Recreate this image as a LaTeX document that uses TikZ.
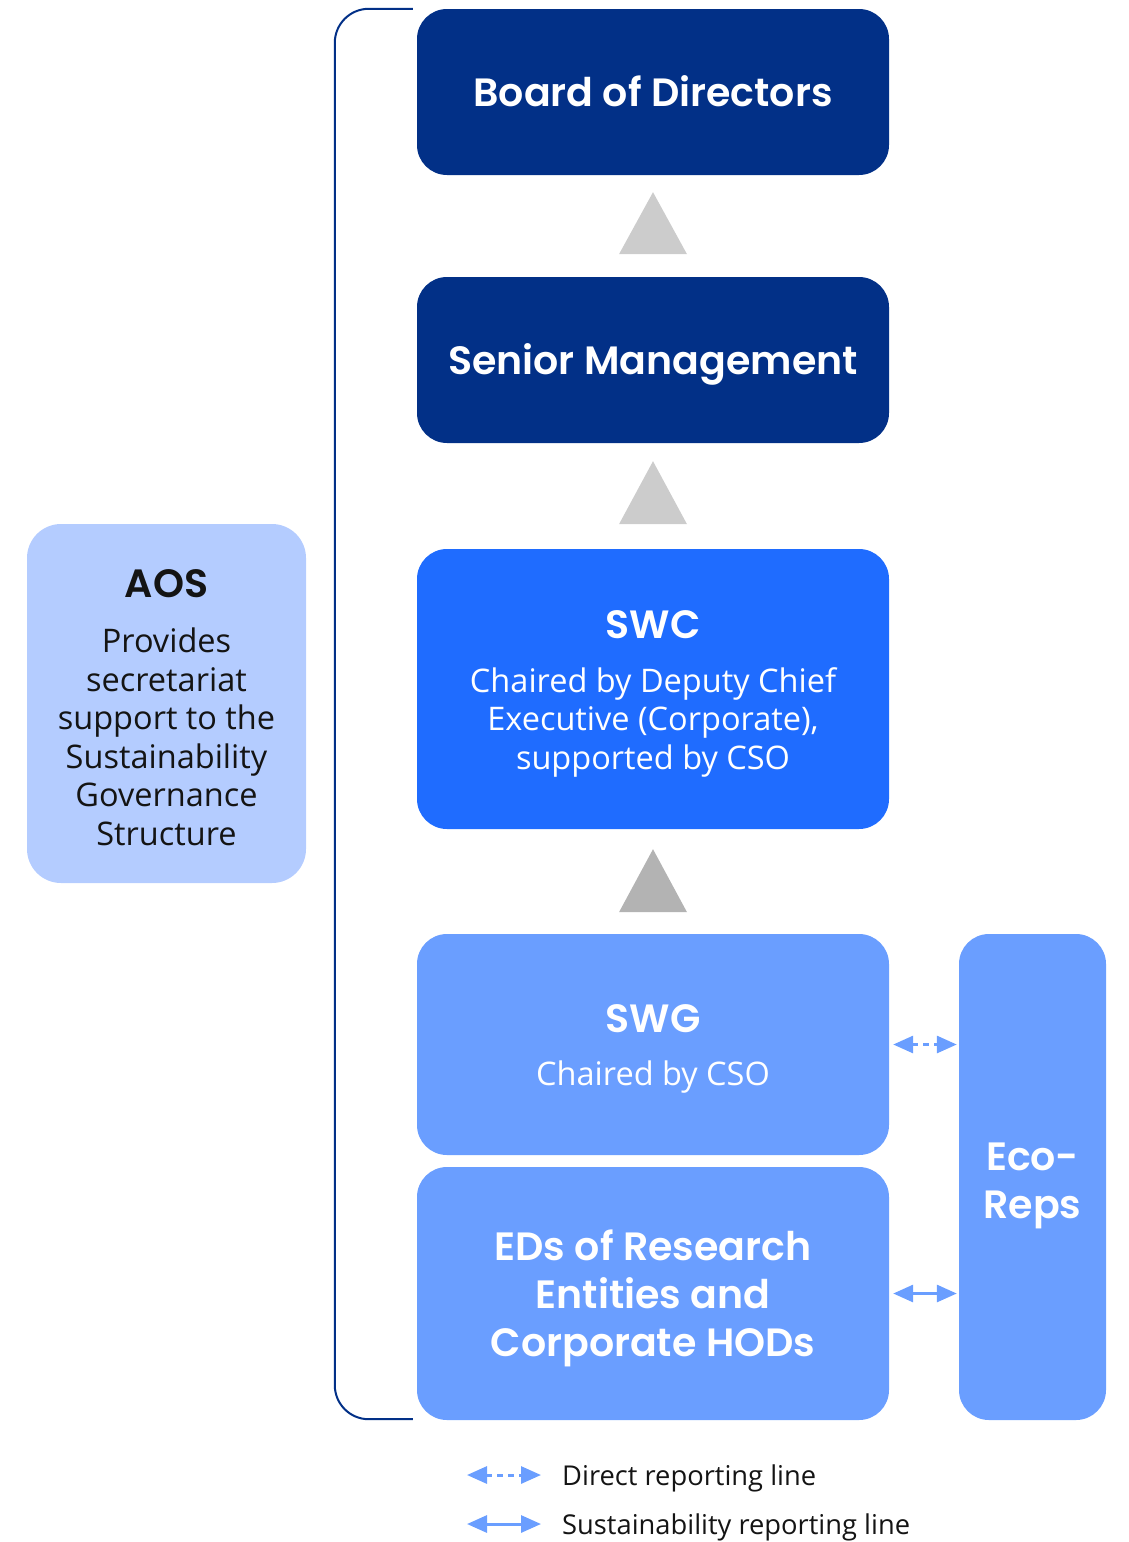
\documentclass[tikz,border=0pt]{standalone}
\usepackage{fontspec}
\setmainfont{Open Sans}
\newfontfamily\headfont{Poppins SemiBold}
\usetikzlibrary{arrows.meta,calc}
\definecolor{navy}{RGB}{2,48,135}
\definecolor{brightblue}{RGB}{31,108,255}
\definecolor{midblue}{RGB}{106,158,255}
\definecolor{paleblue}{RGB}{180,204,255}
\definecolor{tri}{RGB}{204,204,204}
\definecolor{tridark}{RGB}{179,179,179}
\definecolor{ink}{RGB}{20,20,20}
\tikzset{
  box/.style={draw=none, rounded corners=30pt, inner sep=0pt},
  txt/.style={inner sep=0pt, align=center, text=white},
  head/.style={txt, font=\headfont\fontsize{39.5}{48}\selectfont},
  bodytext/.style={txt, font=\fontsize{32.5}{38.5}\selectfont},
  relarrow/.style={midblue, line width=3pt, {Triangle[length=20pt,width=17pt]}-{Triangle[length=20pt,width=17pt]}},
  dashrel/.style={relarrow, dash pattern=on 6pt off 5pt},
}
\begin{document}
\begin{tikzpicture}[x=1pt,y=-1pt]
\useasboundingbox (0,0) rectangle (1128,1542);
% boxes
\node[box, fill=navy, minimum width=472pt, minimum height=166pt] (board) at (653,92) {};
\node[box, fill=navy, minimum width=472pt, minimum height=166pt] (senior) at (653,360) {};
\node[box, fill=brightblue, minimum width=472pt, minimum height=280pt] (swc) at (653,689) {};
\node[box, fill=midblue, minimum width=472pt, minimum height=221pt] (swg) at (653,1044.5) {};
\node[box, fill=midblue, minimum width=472pt, minimum height=253pt] (eds) at (653,1293.5) {};
\node[box, fill=midblue, minimum width=147pt, minimum height=486pt] (eco) at (1032.5,1177) {};
\node[box, fill=paleblue, rounded corners=34pt, minimum width=279pt, minimum height=359pt] (aos) at (166.5,703.5) {};
% texts
\node[head] (boardt) at ($(board.center)+(0,-1)$) {Board of Directors};
\node[head] (seniort) at ($(senior.center)+(0,4)$) {Senior Management};
\node[head] (swct) at (653,625) {SWC};
\node[bodytext] (swcb) at (653,722) {Chaired by Deputy Chief\\Executive (Corporate),\\supported by CSO};
\node[head] (swgt) at (653,1019) {SWG};
\node[bodytext] (swgb) at (653,1077) {Chaired by CSO};
\node[head] (edst) at ($(eds.center)+(0,5)$) {EDs of Research\\Entities and\\Corporate HODs};
\node[head] (ecot) at ($(eco.center)+(0,9)$) {Eco-\\Reps};
\node[head, text=ink] (aost) at (166.5,584) {AOS};
\node[bodytext, text=ink] (aosb) at (166.5,737) {Provides\\secretariat\\support to the\\Sustainability\\Governance\\Structure};
% upward triangles
\fill[tri] ($(board.south)+(0,17)$) -- ++(34,62) -- ++(-68,0) -- cycle;
\fill[tri] ($(senior.south)+(0,18)$) -- ++(34,63) -- ++(-68,0) -- cycle;
\fill[tridark] ($(swc.south)+(0,20)$) -- ++(34,63) -- ++(-68,0) -- cycle;
% bracket
\draw[navy, line width=2pt, rounded corners=34pt]
  ($(board.north west)+(-4,0)$) -- ($(board.north west)+(-82,0)$) -- ($(eds.south west)+(-82,-1)$) -- ($(eds.south west)+(-4,-1)$);
% relations
\draw[dashrel, shorten <=4pt, shorten >=2pt] (swg.east) -- (swg.east -| eco.west);
\draw[relarrow, shorten <=4pt, shorten >=2pt] (eds.east) -- (eds.east -| eco.west);
% legend
\coordinate (l1a) at (467,1475);
\coordinate (l1b) at (541,1475);
\coordinate (l2a) at (467,1524);
\coordinate (l2b) at (541,1524);
\draw[dashrel] (l1a) -- (l1b);
\draw[relarrow] (l2a) -- (l2b);
\node[anchor=west, inner sep=0pt, text=ink, font=\fontsize{27.3}{30}\selectfont] (lt1) at (562,1478) {Direct reporting line};
\node[anchor=west, inner sep=0pt, text=ink, font=\fontsize{27.3}{30}\selectfont] (lt2) at (562,1527) {Sustainability reporting line};
\end{tikzpicture}
\end{document}
